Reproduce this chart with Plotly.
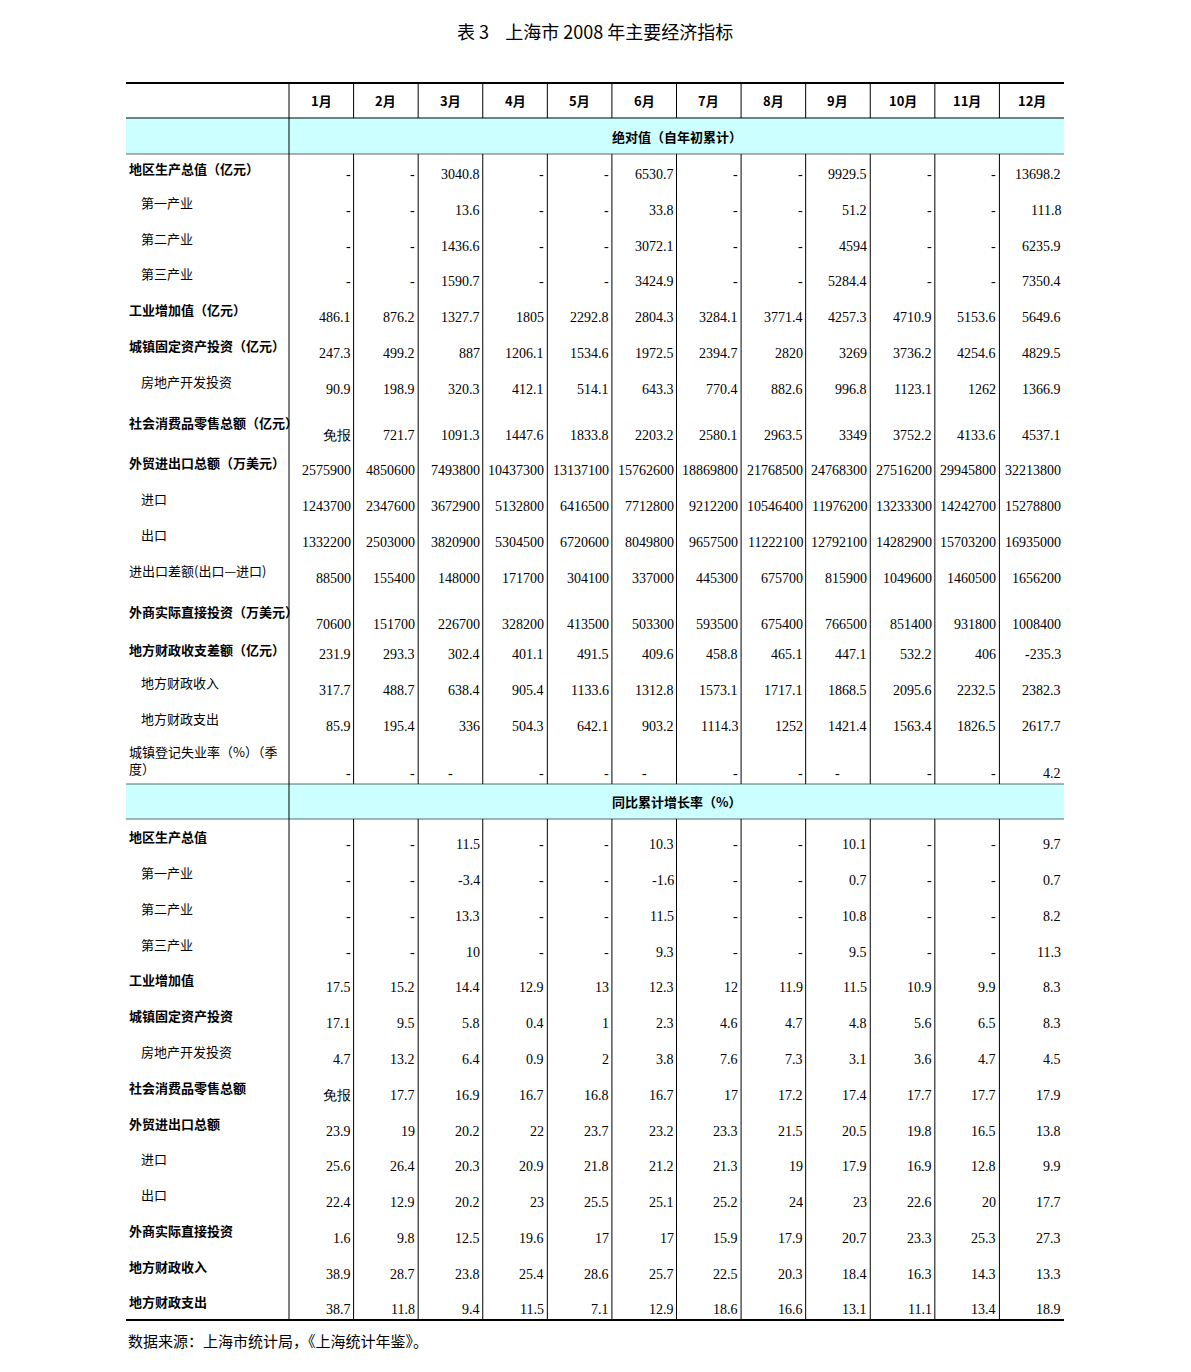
import plotly.graph_objects as go

months = ["1月","2月","3月","4月","5月","6月","7月","8月","9月","10月","11月","12月"]
sec1_title = "绝对值（自年初累计）"
sec2_title = "同比累计增长率（%）"

sec1_labels = ["地区生产总值（亿元）","第一产业","第二产业","第三产业","工业增加值（亿元）","城镇固定资产投资（亿元）",
               "房地产开发投资","社会消费品零售总额（亿元）","外贸进出口总额（万美元）","进口","出口","进出口差额(出口—进口)",
               "外商实际直接投资（万美元）","地方财政收支差额（亿元）","地方财政收入","地方财政支出","城镇登记失业率（%）（季<br>度）"]
sec1_indent = [0,1,1,1,0,0,1,0,0,1,1,0,0,0,1,1,0]
sec1_bold = [1,0,0,0,1,1,0,1,1,0,0,0,1,1,0,0,0]
sec1_values = [
 ["-","-","3040.8","-","-","6530.7","-","-","9929.5","-","-","13698.2"],
 ["-","-","13.6","-","-","33.8","-","-","51.2","-","-","111.8"],
 ["-","-","1436.6","-","-","3072.1","-","-","4594","-","-","6235.9"],
 ["-","-","1590.7","-","-","3424.9","-","-","5284.4","-","-","7350.4"],
 ["486.1","876.2","1327.7","1805","2292.8","2804.3","3284.1","3771.4","4257.3","4710.9","5153.6","5649.6"],
 ["247.3","499.2","887","1206.1","1534.6","1972.5","2394.7","2820","3269","3736.2","4254.6","4829.5"],
 ["90.9","198.9","320.3","412.1","514.1","643.3","770.4","882.6","996.8","1123.1","1262","1366.9"],
 ["免报","721.7","1091.3","1447.6","1833.8","2203.2","2580.1","2963.5","3349","3752.2","4133.6","4537.1"],
 ["2575900","4850600","7493800","10437300","13137100","15762600","18869800","21768500","24768300","27516200","29945800","32213800"],
 ["1243700","2347600","3672900","5132800","6416500","7712800","9212200","10546400","11976200","13233300","14242700","15278800"],
 ["1332200","2503000","3820900","5304500","6720600","8049800","9657500","11222100","12792100","14282900","15703200","16935000"],
 ["88500","155400","148000","171700","304100","337000","445300","675700","815900","1049600","1460500","1656200"],
 ["70600","151700","226700","328200","413500","503300","593500","675400","766500","851400","931800","1008400"],
 ["231.9","293.3","302.4","401.1","491.5","409.6","458.8","465.1","447.1","532.2","406","-235.3"],
 ["317.7","488.7","638.4","905.4","1133.6","1312.8","1573.1","1717.1","1868.5","2095.6","2232.5","2382.3"],
 ["85.9","195.4","336","504.3","642.1","903.2","1114.3","1252","1421.4","1563.4","1826.5","2617.7"],
 ["-","-","－","-","-","－","-","-","－","-","-","4.2"],
]

sec2_labels = ["地区生产总值","第一产业","第二产业","第三产业","工业增加值","城镇固定资产投资","房地产开发投资",
               "社会消费品零售总额","外贸进出口总额","进口","出口","外商实际直接投资","地方财政收入","地方财政支出"]
sec2_indent = [0,1,1,1,0,0,1,0,0,1,1,0,0,0]
sec2_bold = [1,0,0,0,1,1,0,1,1,0,0,1,1,1]
sec2_values = [
 ["-","-","11.5","-","-","10.3","-","-","10.1","-","-","9.7"],
 ["-","-","-3.4","-","-","-1.6","-","-","0.7","-","-","0.7"],
 ["-","-","13.3","-","-","11.5","-","-","10.8","-","-","8.2"],
 ["-","-","10","-","-","9.3","-","-","9.5","-","-","11.3"],
 ["17.5","15.2","14.4","12.9","13","12.3","12","11.9","11.5","10.9","9.9","8.3"],
 ["17.1","9.5","5.8","0.4","1","2.3","4.6","4.7","4.8","5.6","6.5","8.3"],
 ["4.7","13.2","6.4","0.9","2","3.8","7.6","7.3","3.1","3.6","4.7","4.5"],
 ["免报","17.7","16.9","16.7","16.8","16.7","17","17.2","17.4","17.7","17.7","17.9"],
 ["23.9","19","20.2","22","23.7","23.2","23.3","21.5","20.5","19.8","16.5","13.8"],
 ["25.6","26.4","20.3","20.9","21.8","21.2","21.3","19","17.9","16.9","12.8","9.9"],
 ["22.4","12.9","20.2","23","25.5","25.1","25.2","24","23","22.6","20","17.7"],
 ["1.6","9.8","12.5","19.6","17","17","15.9","17.9","20.7","23.3","25.3","27.3"],
 ["38.9","28.7","23.8","25.4","28.6","25.7","22.5","20.3","18.4","16.3","14.3","13.3"],
 ["38.7","11.8","9.4","11.5","7.1","12.9","18.6","16.6","13.1","11.1","13.4","18.9"],
]

# ---- layout geometry (reference pixel coordinates) ----
X0, XL, X1 = 126, 289, 1064
colw = (X1 - XL) / 12
cols = [XL + i * colw for i in range(13)]
HDR_TOP, HDR_BOT = 83, 118
B1_TOP, B1_BOT = 118, 154
sec1_bottoms = [185,221,257,292,328,364,400,446,481,517,553,589,635,665,701,737,784]
B2_TOP, B2_BOT = 784, 819
sec2_bottoms = [855,891,927,963,998,1034,1070,1106,1142,1177,1213,1249,1285,1320]

CJK = "Noto Sans CJK SC"
NUM = "Liberation Serif"
fig = go.Figure()
shapes, ann = [], []

def line(x0, y0, x1, y1, w=1):
    shapes.append(dict(type="line", x0=x0, y0=y0, x1=x1, y1=y1, line=dict(color="black", width=w)))

for t, b in [(B1_TOP, B1_BOT), (B2_TOP, B2_BOT)]:
    shapes.append(dict(type="rect", x0=X0, x1=X1, y0=t, y1=b, fillcolor="#ccffff", line=dict(width=0), layer="below"))
line(X0, HDR_TOP, X1, HDR_TOP, 2)
line(X0, HDR_BOT, X1, HDR_BOT, 1)
line(X0, B1_BOT, X1, B1_BOT, 0.6)
line(X0, B2_TOP, X1, B2_TOP, 0.6)
line(X0, B2_BOT, X1, B2_BOT, 0.6)
line(X0, 1320, X1, 1320, 2)
line(XL, HDR_TOP, XL, 1320, 1)
for c in cols[1:-1]:
    line(c, HDR_TOP, c, HDR_BOT)
    line(c, B1_BOT, c, B2_TOP)
    line(c, B2_BOT, c, 1320)

for i, m in enumerate(months):
    ann.append(dict(x=(cols[i]+cols[i+1])/2, y=(HDR_TOP+HDR_BOT)/2, text="<b>"+m+"</b>", font=dict(family=CJK, size=13)))
ann.append(dict(x=(XL+X1)/2, y=(B1_TOP+B1_BOT)/2, text="<b>"+sec1_title+"</b>", font=dict(family=CJK, size=13)))
ann.append(dict(x=(XL+X1)/2, y=(B2_TOP+B2_BOT)/2, text="<b>"+sec2_title+"</b>", font=dict(family=CJK, size=13)))

def section(labels, indent, bold, values, top, bottoms):
    prev = top
    for lab, ind, bd, vals, bot in zip(labels, indent, bold, values, bottoms):
        t = "<b>"+lab+"</b>" if bd else lab
        ann.append(dict(x=127 + 12*ind, y=(prev+bot)/2 - 1, text=t, xanchor="left", align="left",
                        font=dict(family=CJK, size=13)))
        for i, v in enumerate(vals):
            if v == "－":
                ann.append(dict(x=(cols[i]+cols[i+1])/2, y=bot-11, text="-", font=dict(family=NUM, size=14)))
            else:
                ann.append(dict(x=cols[i+1]-1, y=bot-11, text=v, xanchor="right", font=dict(family=NUM, size=14)))
        prev = bot

section(sec1_labels, sec1_indent, sec1_bold, sec1_values, B1_BOT, sec1_bottoms)
section(sec2_labels, sec2_indent, sec2_bold, sec2_values, B2_BOT, sec2_bottoms)

ann.append(dict(x=595, y=31, text="表 3    上海市 2008 年主要经济指标", font=dict(family=CJK, size=18)))
ann.append(dict(x=126, y=1340, text="数据来源：上海市统计局，《上海统计年鉴》。", xanchor="left", font=dict(family=CJK, size=15)))
for a in ann:
    a.update(xref="x", yref="y", showarrow=False)
    a["font"]["color"] = "black"

# page body adds an 8px offset; shift the axis ranges to compensate
fig.update_layout(width=1191, height=1372, margin=dict(l=0, r=0, t=0, b=0),
                  paper_bgcolor="white", plot_bgcolor="white", shapes=shapes, annotations=ann,
                  xaxis=dict(range=[8, 1199], visible=False, fixedrange=True),
                  yaxis=dict(range=[1380, 8], visible=False, fixedrange=True), showlegend=False)
fig.write_html("out.html")
